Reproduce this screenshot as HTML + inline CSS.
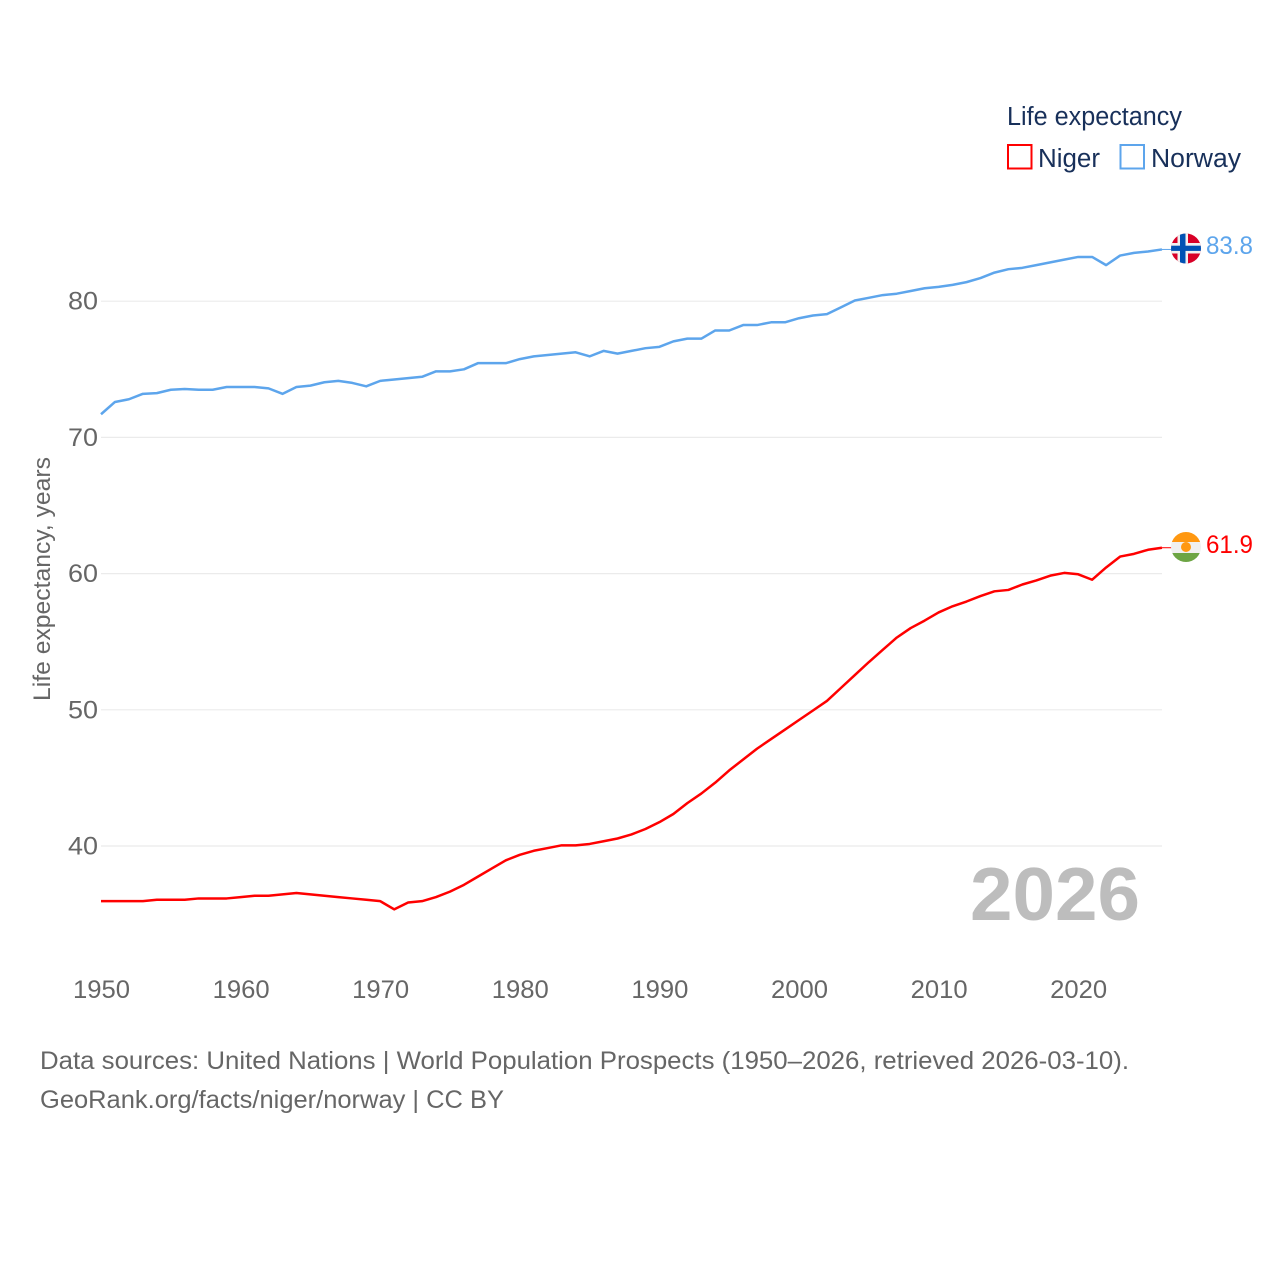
<!DOCTYPE html>
<html lang="en">
<head>
<meta charset="utf-8">
<title>Life expectancy: Niger and Norway</title>
<style>
html,body{margin:0;padding:0;background:#fff;}
svg{display:block;}
text{font-family:"Liberation Sans",sans-serif;}
</style>
</head>
<body>
<svg id="chart" xmlns="http://www.w3.org/2000/svg" width="1280" height="1280" viewBox="0 0 1280 1280">
  <rect x="0" y="0" width="1280" height="1280" fill="#ffffff"/>
  <g id="grid"></g>
  <g id="yticks"></g>
  <g id="xticks"></g>
  <text transform="translate(50,701) rotate(-90)" font-size="24" fill="#666666" textLength="244" lengthAdjust="spacingAndGlyphs">Life expectancy, years</text>
  <text x="970" y="920" font-size="75" font-weight="700" fill="#bdbdbd" textLength="170" lengthAdjust="spacingAndGlyphs">2026</text>
  <g id="series"></g>

  <defs>
    <clipPath id="clip-no"><circle cx="1186" cy="248.5" r="15"/></clipPath>
    <clipPath id="clip-ne"><circle cx="1186" cy="547" r="15"/></clipPath>
  </defs>
  <g clip-path="url(#clip-no)">
    <rect x="1171" y="233" width="30" height="31" fill="#d80027"/>
    <rect x="1177.5" y="233" width="10.5" height="31" fill="#f0f0f0"/>
    <rect x="1171" y="243" width="30" height="10.5" fill="#f0f0f0"/>
    <rect x="1180" y="233" width="5.5" height="31" fill="#0052b4"/>
    <rect x="1171" y="245.7" width="30" height="5.2" fill="#0052b4"/>
  </g>
  <g clip-path="url(#clip-ne)">
    <rect x="1171" y="532" width="30" height="10" fill="#ff9811"/>
    <rect x="1171" y="542" width="30" height="11" fill="#f0f0f0"/>
    <rect x="1171" y="553" width="30" height="10" fill="#6da544"/>
    <circle cx="1186" cy="547" r="5" fill="#ff9811"/>
  </g>
  <text id="value-norway" x="1206" y="254" font-size="25" fill="#5da5ec" textLength="47" lengthAdjust="spacingAndGlyphs"></text>
  <text id="value-niger" x="1206" y="553" font-size="25" fill="#ff0000" textLength="47" lengthAdjust="spacingAndGlyphs"></text>

  <g>
    <text x="1007" y="125" font-size="25.5" fill="#18305a" textLength="175" lengthAdjust="spacingAndGlyphs">Life expectancy</text>
    <rect x="1008" y="145" width="23.5" height="23.5" fill="none" stroke="#ff0000" stroke-width="2"/>
    <text x="1038" y="167" font-size="25.5" fill="#18305a" textLength="62" lengthAdjust="spacingAndGlyphs">Niger</text>
    <rect x="1120.5" y="145" width="23.5" height="23.5" fill="none" stroke="#5da5ec" stroke-width="2"/>
    <text x="1151" y="167" font-size="25.5" fill="#18305a" textLength="90" lengthAdjust="spacingAndGlyphs">Norway</text>
  </g>

  <text x="40" y="1069" font-size="25" fill="#666666" textLength="1089" lengthAdjust="spacingAndGlyphs">Data sources: United Nations | World Population Prospects (1950–2026, retrieved 2026-03-10).</text>
  <text x="40" y="1108" font-size="25" fill="#666666" textLength="464" lengthAdjust="spacingAndGlyphs">GeoRank.org/facts/niger/norway | CC BY</text>
</svg>
<script>
var startYear = 1950;
var xTickLabels = [1950,1960,1970,1980,1990,2000,2010,2020];
var yTickLabels = [40,50,60,70,80];
var norwayValues = [71.7,72.6,72.8,73.2,73.25,73.5,73.55,73.5,73.5,73.7,
  73.7,73.7,73.6,73.2,73.7,73.8,74.05,74.15,74,73.75,
  74.15,74.25,74.35,74.45,74.85,74.85,75,75.45,75.45,75.45,
  75.75,75.95,76.05,76.15,76.25,75.95,76.35,76.15,76.35,76.55,
  76.65,77.05,77.25,77.25,77.85,77.85,78.25,78.25,78.45,78.45,
  78.75,78.95,79.05,79.55,80.05,80.25,80.45,80.55,80.75,80.95,
  81.05,81.2,81.4,81.7,82.1,82.35,82.45,82.65,82.85,83.05,
  83.25,83.25,82.65,83.35,83.55,83.65,83.8];
var nigerValues = [35.95,35.95,35.95,35.95,36.05,36.05,36.05,36.15,36.15,36.15,
  36.25,36.35,36.35,36.45,36.55,36.45,36.35,36.25,36.15,36.05,
  35.95,35.35,35.85,35.95,36.25,36.65,37.15,37.75,38.35,38.95,
  39.35,39.65,39.85,40.05,40.05,40.15,40.35,40.55,40.85,41.25,
  41.75,42.35,43.15,43.85,44.65,45.55,46.35,47.15,47.85,48.55,
  49.25,49.95,50.65,51.6,52.55,53.5,54.4,55.3,56,56.55,
  57.15,57.6,57.95,58.35,58.7,58.8,59.2,59.5,59.85,60.05,
  59.95,59.55,60.45,61.25,61.45,61.75,61.9];

var NS = 'http://www.w3.org/2000/svg';
function xScale(year){ return 101 + (year - 1950) * 13.96; }
function yScale(v){ return 846 - (v - 40) * 13.62; }
function make(tag, attrs, parent, txt){
  var el = document.createElementNS(NS, tag);
  for (var k in attrs) el.setAttribute(k, attrs[k]);
  if (txt !== undefined) el.textContent = txt;
  parent.appendChild(el);
  return el;
}
var gridG = document.getElementById('grid');
var yG = document.getElementById('yticks');
var xG = document.getElementById('xticks');
var seriesG = document.getElementById('series');

yTickLabels.forEach(function(v){
  var line = make('line', {x1:101, x2:1162, y1:yScale(v), y2:yScale(v), stroke:'#ebebeb', 'stroke-width':1.2}, gridG);
  
  
  var t = make('text', {x:98, y:yScale(v)+8.5, 'text-anchor':'end', 'font-size':25, fill:'#666666', textLength:30, lengthAdjust:'spacingAndGlyphs'}, yG, String(v));
  
  
});
xTickLabels.forEach(function(y){
  var t = make('text', {x:xScale(y)+0.5, y:998, 'text-anchor':'middle', 'font-size':25, fill:'#666666', textLength:57, lengthAdjust:'spacingAndGlyphs'}, xG, String(y));
  
  
});
function linePath(vals){
  return vals.map(function(v,i){
    return (i ? 'L' : 'M') + xScale(startYear + i).toFixed(2) + ' ' + yScale(v).toFixed(2);
  }).join(' ');
}
function drawSeries(vals, color, name){
  var p = make('path', {d:linePath(vals), fill:'none', stroke:color, 'stroke-width':2.5, 'stroke-linejoin':'round'}, seriesG);
  
  
  var ly = yScale(vals[vals.length-1]);
  var c = make('line', {x1:xScale(startYear + vals.length - 1), x2:1172, y1:ly, y2:ly, stroke:color, 'stroke-width':1}, seriesG);
  
  
}
drawSeries(norwayValues, '#5da5ec', 'norway');
drawSeries(nigerValues, '#ff0000', 'niger');
document.getElementById('value-norway').textContent = norwayValues[norwayValues.length-1].toFixed(1);
document.getElementById('value-niger').textContent = nigerValues[nigerValues.length-1].toFixed(1);
</script>
</body>
</html>
